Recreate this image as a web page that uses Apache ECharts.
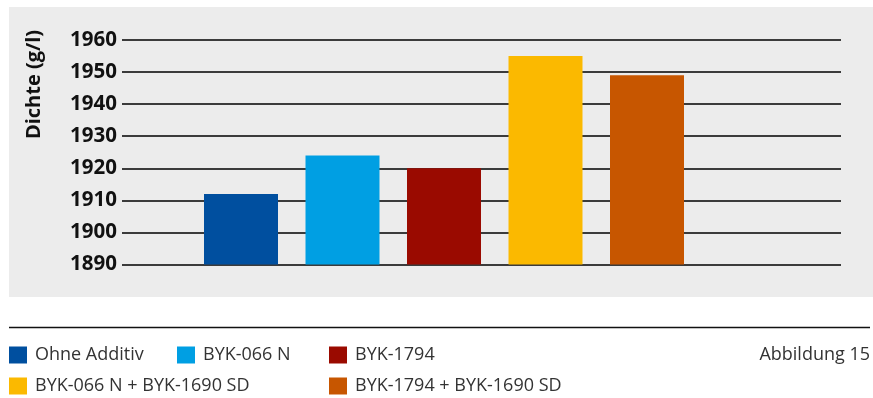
<!DOCTYPE html>
<html>
<head>
<meta charset="utf-8">
<script src="https://cdn.jsdelivr.net/npm/echarts@6/dist/echarts.min.js"></script>
<style>
html,body{margin:0;padding:0;background:#fff;}
#chart{width:873px;height:398px;}
</style>
</head>
<body>
<div id="chart"></div>
<script>
const categories = ['Ohne Additiv', 'BYK-066 N', 'BYK-1794', 'BYK-066 N + BYK-1690 SD', 'BYK-1794 + BYK-1690 SD'];
const values = [1912, 1924, 1920, 1955, 1949];
const barColors = ['#004f9f', '#009fe3', '#9a0a00', '#fbb900', '#c75600'];
const yMin = 1890, yMax = 1960, yStep = 10;
const yTitle = 'Dichte (g/l)';
const figureLabel = 'Abbildung 15';
const legendPos = [[9, 346], [177, 346], [329, 346], [9, 377], [329, 377]];

const chart = echarts.init(document.getElementById('chart'), null, {renderer: 'canvas'});

const series = categories.map((name, i) => ({
  name: name,
  type: 'bar',
  xAxisIndex: 1,
  yAxisIndex: 1,
  barWidth: 74,
  barGap: '-100%',
  itemStyle: {color: barColors[i]},
  data: categories.map((c, j) => j === i ? values[j] : '-')
}));

const legends = categories.map((name, i) => ({
  data: [name],
  left: legendPos[i][0],
  top: legendPos[i][1],
  padding: 0,
  icon: 'rect',
  itemWidth: 18,
  itemHeight: 17,
  itemGap: 0,
  selectedMode: false,
  textStyle: {fontFamily: 'Open Sans', fontSize: 18, color: '#333', padding: [0, 0, 0, 3]}
}));

chart.setOption({
  animation: false,
  backgroundColor: '#ffffff',
  graphic: [
    {type: 'rect', z: -100, shape: {x: 9, y: 7, width: 864, height: 290}, style: {fill: '#ececec'}},
    {type: 'line', shape: {x1: 9, y1: 327.5, x2: 870, y2: 327.5}, style: {stroke: '#111', lineWidth: 1.5}},
    {type: 'text', x: 34.5, y: 84.5, rotation: Math.PI / 2,
      style: {text: yTitle, fontFamily: 'Open Sans', fontWeight: 'bold', fontSize: 20, fill: '#111', align: 'center', verticalAlign: 'middle'}},
    {type: 'text', x: 870, y: 354.5,
      style: {text: figureLabel, fontFamily: 'Open Sans', fontSize: 18, fill: '#333', align: 'right', verticalAlign: 'middle'}}
  ],
  legend: legends,
  grid: [
    {left: 122, right: 32, top: 40, bottom: 133.5},
    {left: 190.25, width: 507.5, top: 40, bottom: 133.5}
  ],
  xAxis: [
    {gridIndex: 0, type: 'value', show: false, min: 0, max: 1},
    {gridIndex: 1, type: 'category', data: categories, show: false}
  ],
  yAxis: [
    {gridIndex: 0, type: 'value', min: yMin, max: yMax, interval: yStep,
      axisLine: {show: false}, axisTick: {show: false},
      axisLabel: {margin: 5, fontFamily: 'Open Sans', fontWeight: 'bold', fontSize: 20.5, color: '#111',
        formatter: v => String(v)},
      splitLine: {lineStyle: {color: '#000', width: 1.5}}},
    {gridIndex: 1, type: 'value', min: yMin, max: yMax, show: false, splitLine: {show: false}}
  ],
  series: series
});
</script>
</body>
</html>
